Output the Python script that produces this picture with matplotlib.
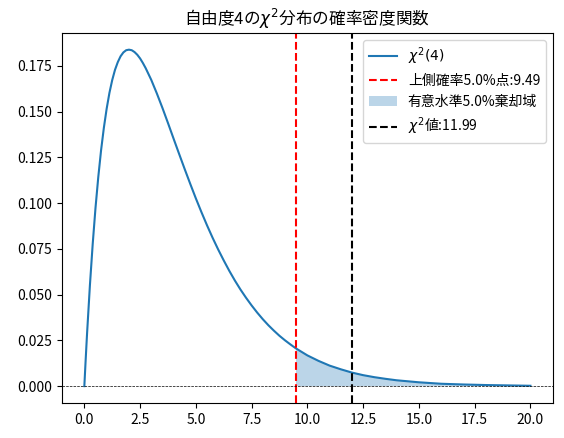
import numpy as np
import matplotlib
matplotlib.use('Agg')
import matplotlib.pyplot as plt

plt.rcParams['font.family'] = ['Noto Sans CJK JP', 'DejaVu Sans']
plt.rcParams['mathtext.fontset'] = 'dejavusans'

# 曲線上から読み取った値 (x, 確率密度)
x_vals = [0.0, 0.05, 0.1, 0.125, 0.25, 0.375, 0.5, 0.625, 0.75, 0.875, 1.0,
          1.125, 1.25, 1.375, 1.5, 1.625, 1.75, 1.875, 2.0, 2.125, 2.25, 2.375,
          2.5, 2.625, 2.75, 3.0, 3.25, 3.5, 3.75, 4.0, 4.25, 4.5, 4.75, 5.0,
          5.25, 5.5, 5.75, 6.0, 6.25, 6.5, 6.75, 7.0, 7.25, 7.5, 7.75, 8.0,
          8.25, 8.5, 8.75, 9.0, 9.25, 9.49, 10.0, 10.5, 11.0, 11.5, 12.0, 12.5,
          13.0, 13.5, 14.0, 15.0, 16.0, 17.0, 18.0, 19.0, 20.0]
pdf_vals = [0.0, 0.0122, 0.0238, 0.0294, 0.0552, 0.0777, 0.0974, 0.1143, 0.1289,
            0.1412, 0.1516, 0.1603, 0.1673, 0.1729, 0.1771, 0.1803, 0.1824, 0.1836,
            0.1839, 0.1836, 0.1826, 0.1811, 0.1791, 0.1766, 0.1738, 0.1674, 0.1600,
            0.1521, 0.1438, 0.1353, 0.1269, 0.1186, 0.1105, 0.1026, 0.0951, 0.0879,
            0.0811, 0.0747, 0.0687, 0.0630, 0.0577, 0.0528, 0.0483, 0.0441, 0.0402,
            0.0366, 0.0333, 0.0303, 0.0275, 0.0250, 0.0227, 0.0206, 0.0168, 0.0138,
            0.0112, 0.0092, 0.0074, 0.0060, 0.0049, 0.0040, 0.0032, 0.0021, 0.0013,
            0.0009, 0.0006, 0.0004, 0.0002]

crit = 9.49
chi2_value = 11.99
df_num = 4
alpha_pct = 5.0

x = np.array(x_vals)
y = np.array(pdf_vals)

fig, ax = plt.subplots(figsize=(5.64, 4.38), dpi=100)
fig.subplots_adjust(left=0.11, right=0.98, top=0.925, bottom=0.08)

ax.plot(x, y, label=r'$\chi^2(%d)$' % df_num)
ax.axvline(crit, color='red', linestyle='--', label=f'上側確率{alpha_pct}%点:{crit}')
mask = x >= crit
ax.fill_between(x[mask], y[mask], 0, alpha=0.3, label=f'有意水準{alpha_pct}%棄却域')
ax.axvline(chi2_value, color='black', linestyle='--', label=r'$\chi^2$値:' + f'{chi2_value}')
ax.axhline(0, color='black', linestyle='--', linewidth=0.5)

ax.set_title(r'自由度4の$\chi^2$分布の確率密度関数')
ax.legend(loc='upper right')

fig.savefig('out.png', dpi=100)
